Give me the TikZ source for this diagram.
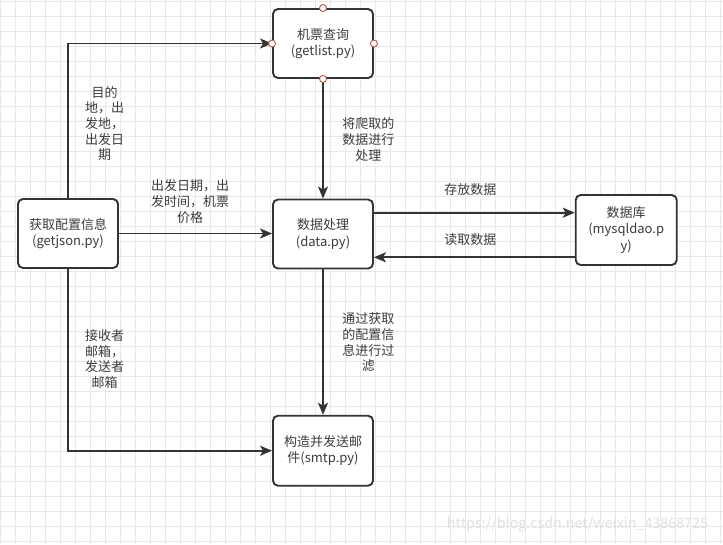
\documentclass[tikz,border=0pt]{standalone}
\usepackage{fontspec}
\newfontfamily\cjk{Noto Sans CJK SC}
\usetikzlibrary{arrows.meta,calc}
\definecolor{ink}{HTML}{333333}
\definecolor{txt}{HTML}{3C3C3C}
\definecolor{gridc}{HTML}{E8E8E8}
\definecolor{portc}{HTML}{B85450}
\tikzset{
  box/.style={draw=ink, line width=1.9pt, rounded corners=5pt, fill=white,
    minimum width=100pt, minimum height=69pt, inner sep=0pt,
    align=center, text=txt, font=\cjk\fontsize{13}{16.5}\selectfont},
  lbl/.style={align=center, text=txt, inner sep=0pt, font=\cjk\fontsize{13}{15.7}\selectfont},
  arr/.style={draw=ink, line width=1.9pt, -{Stealth[length=12pt,width=10pt,inset=3pt]}},
  port/.style={circle, draw=portc, fill=white, line width=0.9pt, minimum size=7pt, inner sep=0pt}
}
\begin{document}
\begin{tikzpicture}[x=1pt,y=-1pt]
\useasboundingbox (0,0) rectangle (723,544);
\fill[white] (0,0) rectangle (723,544);
\foreach \i in {0,15,...,720} \draw[gridc, line width=0.8pt] (\i,0) -- (\i,544);
\foreach \j in {1,16,...,541} \draw[gridc, line width=0.8pt] (0,\j) -- (723,\j);

\node[box] (getlist) at (323,43.5) {机票查询\\(getlist.py)};
\node[box] (getjson) at (68,233.5) {获取配置信息\\(getjson.py)};
\node[box] (data) at (323,234) {数据处理\\(data.py)};
\node[box, minimum width=101pt, minimum height=70pt] (db) at (626.2,230) {数据库\\(mysqldao.p\\y)};
\node[box, minimum height=70pt] (smtp) at (323,450.7) {构造并发送邮\\件(smtp.py)};

\draw[arr] (getjson.north) |- (getlist.west);
\draw[arr] (getjson.east) -- (data.west |- getjson.east);
\draw[arr] (getjson.south) |- (smtp.west);
\draw[arr] (getlist.south) -- (data.north);
\draw[arr] (data.south) -- (smtp.north);
\coordinate (s1) at ([yshift=21.3pt]data.east);
\coordinate (s2) at ([yshift=-23.3pt]data.east);
\draw[arr] (s1) -- (s1 -| db.west);
\draw[arr] (s2 -| db.west) -- (s2);

\node[port] (pt) at (getlist.north) {};
\node[port] (pl) at (getlist.west) {};
\node[port] (pr) at (getlist.east) {};
\node[port] (pb) at (getlist.south) {};

\node[lbl] (l1) at (104.5,123.5) {目的\\地，出\\发地，\\出发日\\期};
\node[lbl] (l2) at (190,201.7) {出发日期，出\\发时间，机票\\价格};
\node[lbl] (l3) at (104.5,359) {接收者\\邮箱，\\发送者\\邮箱};
\node[lbl] (l4) at (368.3,139.7) {将爬取的\\数据进行\\处理};
\node[lbl] (l5) at (368.3,342.5) {通过获取\\的配置信\\息进行过\\滤};
\node[lbl] (l6) at (470.3,190) {存放数据};
\node[lbl] (l7) at (470.3,240) {读取数据};
\node[lbl, text=black!12, font=\cjk\fontsize{14.3}{16}\selectfont] (wm) at (577.5,525) {https://blog.csdn.net/weixin\_43868725};
\end{tikzpicture}
\end{document}
